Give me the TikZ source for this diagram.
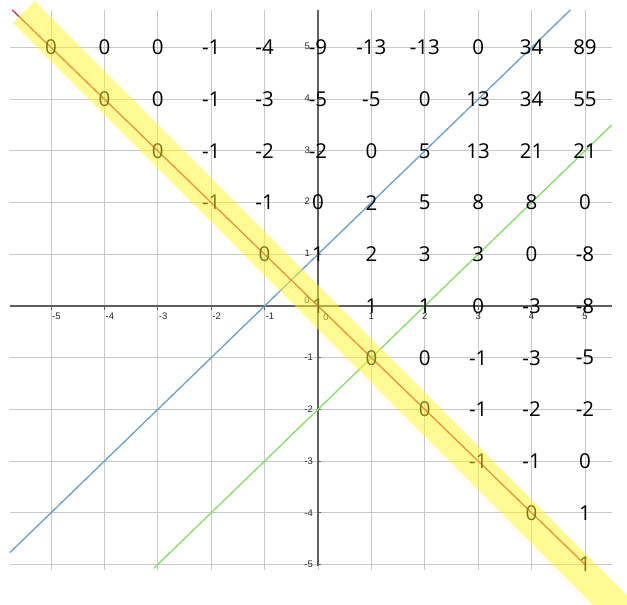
\documentclass[tikz,border=0pt]{standalone}
\usepackage{fontspec}
\setmainfont{Open Sans}
\newfontfamily\tickfont{Liberation Sans}
\definecolor{gridgray}{RGB}{200,200,200}
\definecolor{axisgray}{RGB}{95,95,95}
\definecolor{ticktext}{RGB}{40,40,40}
\definecolor{redline}{RGB}{215,50,75}
\definecolor{blueline}{RGB}{105,160,200}
\definecolor{greenline}{RGB}{135,220,105}
\definecolor{bandyellow}{RGB}{255,245,40}
\begin{document}
\begin{tikzpicture}[x=53.4pt,y=51.7pt,
  gridline/.style={draw=gridgray, line width=0.9pt},
  axisline/.style={draw=axisgray, line width=1.3pt},
  tickmark/.style={draw=axisgray, line width=0.8pt},
  plotline/.style={line width=1.3pt},
  num/.style={font=\fontsize{20.5}{24}\selectfont, inner sep=0pt, anchor=center},
  ticklab/.style={font=\tickfont\fontsize{9.5}{11}\selectfont, text=ticktext, inner sep=0pt},
  band/.style={draw=bandyellow, line width=31pt, opacity=0.5, line cap=butt}]
\useasboundingbox (-5.955,-5.783) rectangle (5.787,5.919);
% grid
\foreach \k in {-5,...,5} {
  \draw[gridline] (-5.77,\k) -- (5.51,\k);
  \draw[gridline] (\k,-5.11) -- (\k,5.73);
}
% axes
\draw[axisline] (-5.77,0) -- (5.51,0);
\draw[axisline] (0,-5.03) -- (0,5.73);
\foreach \k in {-5,...,-1,1,2,3,4,5} {
  \draw[tickmark] (\k,0) -- ++(0,-4pt);
  \draw[tickmark] (0,\k) -- ++(3pt,0);
}
% plotted lines
\draw[plotline, blueline] (-5.77,-4.77) -- (4.73,5.73);
\draw[plotline, greenline] (-3.07,-5.07) -- (5.5,3.5);
\draw[plotline, redline] (-5.73,5.73) -- (5,-5);
% numbers
\foreach \x/\y/\v in {
  -5/5/0, -4/5/0, -3/5/0, -2/5/-1, -1/5/-4, 0/5/-9, 1/5/-13, 2/5/-13, 3/5/0, 4/5/34, 5/5/89,
  -4/4/0, -3/4/0, -2/4/-1, -1/4/-3, 0/4/-5, 1/4/-5, 2/4/0, 3/4/13, 4/4/34, 5/4/55,
  -3/3/0, -2/3/-1, -1/3/-2, 0/3/-2, 1/3/0, 2/3/5, 3/3/13, 4/3/21, 5/3/21,
  -2/2/-1, -1/2/-1, 0/2/0, 1/2/2, 2/2/5, 3/2/8, 4/2/8, 5/2/0,
  -1/1/0, 0/1/1, 1/1/2, 2/1/3, 3/1/3, 4/1/0, 5/1/-8,
  0/0/1, 1/0/1, 2/0/1, 3/0/0, 4/0/-3, 5/0/-8,
  1/-1/0, 2/-1/0, 3/-1/-1, 4/-1/-3, 5/-1/-5,
  2/-2/0, 3/-2/-1, 4/-2/-2, 5/-2/-2,
  3/-3/-1, 4/-3/-1, 5/-3/0,
  4/-4/0, 5/-4/1,
  5/-5/1} {
  \node[num] (n\x_\y) at (\x,\y) {\v};
}
% tick labels
\foreach \k in {1,...,5} {
  \node[ticklab, anchor=north] (tx\k) at ([yshift=-7pt]\k,0) {\k};
  \node[ticklab, anchor=north west] (txm\k) at ([yshift=-7pt,xshift=1pt]-\k,0) {-\k};
  \node[ticklab, anchor=east] (ty\k) at ([xshift=-8pt,yshift=1pt]0,\k) {\k};
  \node[ticklab, anchor=east] (tym\k) at ([xshift=-5pt]0,-\k) {-\k};
}
\node[ticklab] (tx0) at ([xshift=8pt,yshift=-11pt]0,0) {0};
\node[ticklab] (ty0) at ([xshift=-11pt,yshift=6pt]0,0) {0};
% highlight band
\begin{scope}
\clip (-5.955,-5.783) rectangle (5.787,5.919);
\draw[band] (-5.506,5.687) -- (5.72,-5.95);
\end{scope}
\end{tikzpicture}
\end{document}
